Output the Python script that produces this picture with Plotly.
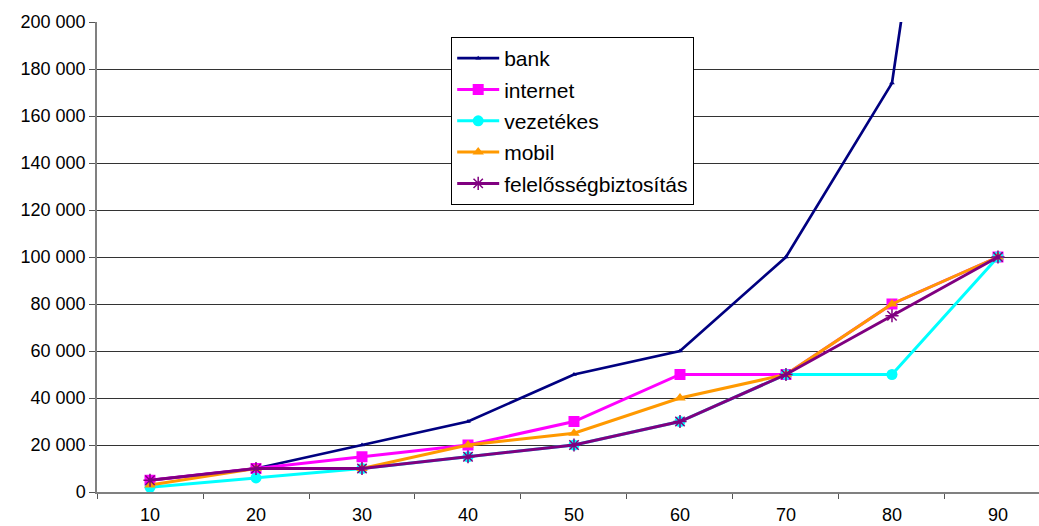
import plotly.graph_objects as go

# Category labels along the x axis
categories = ["10", "20", "30", "40", "50", "60", "70", "80", "90"]

# Series values
bank = [5000, 10000, 20000, 30000, 50000, 60000, 100000, 174000, 480000]
internet = [5000, 10000, 15000, 20000, 30000, 50000, 50000, 80000, 100000]
vezetekes = [2000, 6000, 10000, 15000, 20000, 30000, 50000, 50000, 100000]
mobil = [3000, 10000, 10000, 20000, 25000, 40000, 50000, 80000, 100000]
felelosseg = [5000, 10000, 10000, 15000, 20000, 30000, 50000, 75000, 100000]

y_ticks = list(range(0, 200001, 20000))

xs = list(range(len(categories)))

series = [
    ("bank", bank, "#000080", "triangle-up", 5, 2.7),
    ("internet", internet, "#FF00FF", "square", 11, 3),
    ("vezetékes", vezetekes, "#00FFFF", "circle", 11, 3),
    ("mobil", mobil, "#FF9900", "triangle-up", 10, 3),
    ("felelősségbiztosítás", felelosseg, "#800080", "asterisk-open", 11, 3),
]

fig = go.Figure()
for name, vals, color, symbol, size, width in series:
    marker = dict(symbol=symbol, size=size, color=color)
    if symbol == "asterisk-open":
        marker["line"] = dict(color=color, width=1.5)
    fig.add_trace(go.Scatter(
        x=xs, y=vals, name=name, mode="lines+markers",
        line=dict(color=color, width=width),
        marker=marker,
        legendgroup=name,
    ))

fig.update_layout(
    width=1039, height=526,
    margin=dict(l=97, r=0, t=22, b=34),
    paper_bgcolor="white", plot_bgcolor="white",
    separators=". ",
    font=dict(family="Liberation Sans, Arial, sans-serif", size=18, color="black"),
    showlegend=True,
    legend=dict(
        x=0.376, y=0.968, xanchor="left", yanchor="top",
        bgcolor="white", bordercolor="black", borderwidth=1,
        font=dict(size=21, color="black"),
        tracegroupgap=1,
        itemwidth=42,
    ),
    xaxis=dict(
        range=[-0.5, 8.387],
        tickmode="array", tickvals=xs, ticktext=categories,
        ticks="", showgrid=False, zeroline=False,
        showline=True, linecolor="#808080", linewidth=1.5,
        tickfont=dict(size=18),
        ticklabelstandoff=6,
        automargin=False,
        minor=dict(tickmode="array", tickvals=[i - 0.5 for i in range(len(categories) + 1)],
                   ticks="outside", ticklen=5, tickcolor="#555555", tickwidth=1, showgrid=False),
        fixedrange=True,
    ),
    yaxis=dict(
        range=[0, 200000],
        tickmode="array", tickvals=y_ticks, tickformat=",d",
        ticks="outside", ticklen=6, tickcolor="#555555",
        showgrid=True, gridcolor="#333333", gridwidth=1,
        zeroline=False, showline=True, linecolor="#808080", linewidth=1.5,
        tickfont=dict(size=18),
        automargin=False,
        fixedrange=True,
    ),
)

fig.write_html("out.html")
